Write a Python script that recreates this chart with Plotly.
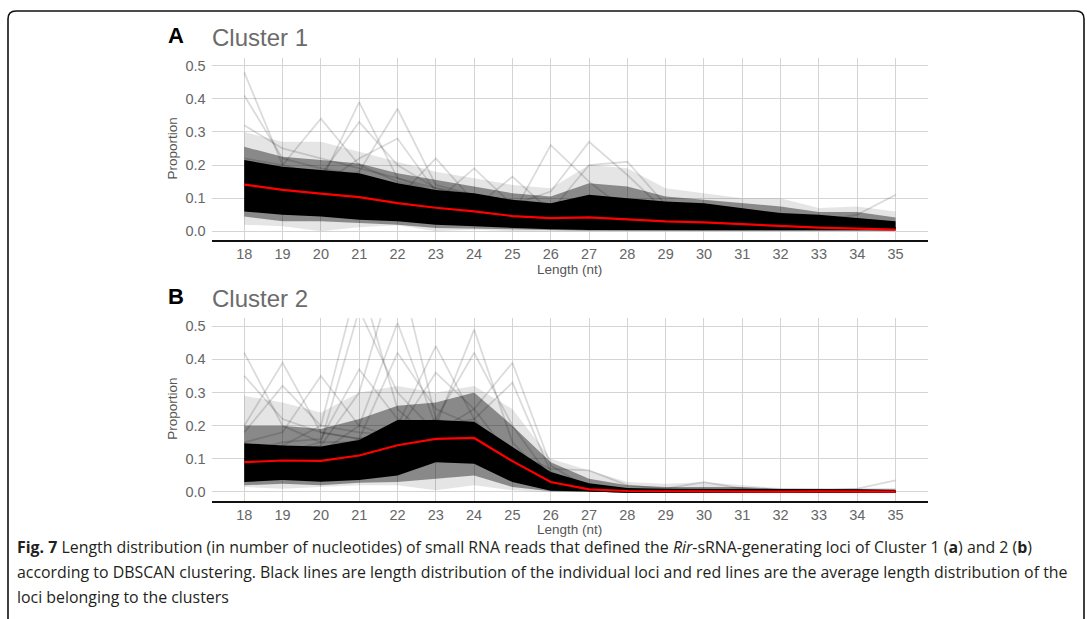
import plotly.graph_objects as go

W, H = 1087, 619

lengths = [18, 19, 20, 21, 22, 23, 24, 25, 26, 27, 28, 29, 30, 31, 32, 33, 34, 35]
y_ticks = [0.0, 0.1, 0.2, 0.3, 0.4, 0.5]
y_tick_text = ["0.0", "0.1", "0.2", "0.3", "0.4", "0.5"]

# ---------------- Cluster 1 ----------------
c1_mean = [0.141, 0.125, 0.114, 0.103, 0.085, 0.071, 0.060, 0.046, 0.040,
           0.042, 0.036, 0.030, 0.027, 0.021, 0.015, 0.011, 0.008, 0.005]
c1_core_hi = [0.215, 0.195, 0.185, 0.175, 0.145, 0.125, 0.115, 0.095, 0.085,
              0.110, 0.100, 0.090, 0.085, 0.070, 0.055, 0.050, 0.040, 0.030]
c1_core_lo = [0.060, 0.050, 0.045, 0.035, 0.030, 0.020, 0.015, 0.010, 0.006,
              0.004, 0.003, 0.003, 0.003, 0.003, 0.003, 0.003, 0.003, 0.003]
c1_mid_hi = [0.255, 0.225, 0.215, 0.205, 0.175, 0.155, 0.135, 0.115, 0.105,
             0.145, 0.135, 0.105, 0.095, 0.085, 0.075, 0.058, 0.058, 0.042]
c1_mid_lo = [0.045, 0.030, 0.030, 0.025, 0.020, 0.010, 0.008, 0.005, 0.003,
             0.002, 0.002, 0.002, 0.002, 0.002, 0.002, 0.002, 0.002, 0.002]
c1_out_hi = [0.300, 0.270, 0.270, 0.240, 0.210, 0.180, 0.160, 0.140, 0.130,
             0.200, 0.190, 0.130, 0.115, 0.100, 0.100, 0.070, 0.075, 0.060]
c1_out_lo = [0.020, 0.015, 0.000, 0.012, 0.018, 0.000, 0.005, 0.000, 0.000,
             0.000, 0.000, 0.000, 0.000, 0.000, 0.000, 0.000, 0.000, 0.000]

c1_loci = [
    [0.48, 0.20, 0.17, 0.15, 0.12, 0.10, 0.09, 0.07, 0.06, 0.06, 0.05, 0.04, 0.04, 0.03, 0.02, 0.02, 0.01, 0.01],
    [0.41, 0.22, 0.19, 0.17, 0.14, 0.11, 0.10, 0.08, 0.07, 0.07, 0.06, 0.05, 0.04, 0.03, 0.03, 0.02, 0.02, 0.01],
    [0.32, 0.25, 0.22, 0.19, 0.16, 0.13, 0.11, 0.09, 0.08, 0.08, 0.07, 0.06, 0.05, 0.04, 0.03, 0.03, 0.02, 0.02],
    [0.22, 0.20, 0.34, 0.20, 0.15, 0.12, 0.10, 0.08, 0.07, 0.07, 0.06, 0.05, 0.04, 0.03, 0.03, 0.02, 0.02, 0.01],
    [0.18, 0.16, 0.15, 0.39, 0.16, 0.12, 0.10, 0.08, 0.07, 0.06, 0.05, 0.05, 0.04, 0.03, 0.02, 0.02, 0.01, 0.01],
    [0.20, 0.18, 0.17, 0.33, 0.20, 0.13, 0.10, 0.08, 0.06, 0.06, 0.05, 0.04, 0.03, 0.03, 0.02, 0.02, 0.01, 0.01],
    [0.12, 0.14, 0.15, 0.18, 0.37, 0.14, 0.11, 0.08, 0.07, 0.06, 0.05, 0.04, 0.04, 0.03, 0.02, 0.02, 0.01, 0.01],
    [0.15, 0.16, 0.14, 0.22, 0.28, 0.12, 0.10, 0.08, 0.06, 0.06, 0.05, 0.04, 0.03, 0.03, 0.02, 0.02, 0.01, 0.01],
    [0.14, 0.13, 0.12, 0.11, 0.10, 0.22, 0.09, 0.07, 0.05, 0.05, 0.04, 0.03, 0.03, 0.02, 0.02, 0.01, 0.01, 0.01],
    [0.15, 0.14, 0.13, 0.12, 0.11, 0.09, 0.19, 0.08, 0.06, 0.05, 0.04, 0.04, 0.03, 0.02, 0.02, 0.01, 0.01, 0.01],
    [0.13, 0.12, 0.11, 0.10, 0.09, 0.08, 0.07, 0.165, 0.06, 0.05, 0.04, 0.04, 0.03, 0.02, 0.02, 0.01, 0.01, 0.01],
    [0.10, 0.09, 0.09, 0.08, 0.07, 0.06, 0.06, 0.05, 0.26, 0.15, 0.06, 0.04, 0.03, 0.02, 0.02, 0.01, 0.01, 0.01],
    [0.09, 0.09, 0.08, 0.08, 0.07, 0.06, 0.05, 0.08, 0.12, 0.27, 0.17, 0.06, 0.04, 0.03, 0.02, 0.02, 0.01, 0.01],
    [0.10, 0.09, 0.09, 0.08, 0.07, 0.06, 0.05, 0.05, 0.06, 0.20, 0.21, 0.08, 0.05, 0.04, 0.03, 0.02, 0.02, 0.01],
    [0.08, 0.07, 0.07, 0.06, 0.06, 0.05, 0.05, 0.04, 0.04, 0.04, 0.04, 0.04, 0.03, 0.03, 0.03, 0.03, 0.05, 0.11],
]

# ---------------- Cluster 2 ----------------
c2_mean = [0.090, 0.095, 0.094, 0.110, 0.141, 0.160, 0.163, 0.093, 0.030,
           0.008, 0.003, 0.002, 0.002, 0.002, 0.001, 0.002, 0.002, 0.001]
c2_core_hi = [0.147, 0.140, 0.137, 0.157, 0.217, 0.217, 0.212, 0.137, 0.060,
              0.026, 0.012, 0.010, 0.010, 0.010, 0.008, 0.008, 0.008, 0.006]
c2_core_lo = [0.030, 0.036, 0.031, 0.036, 0.050, 0.090, 0.085, 0.030, 0.004,
              0.001, 0.000, 0.000, 0.000, 0.000, 0.000, 0.000, 0.000, 0.000]
c2_mid_hi = [0.200, 0.200, 0.190, 0.220, 0.260, 0.270, 0.300, 0.200, 0.090,
             0.040, 0.020, 0.015, 0.015, 0.015, 0.010, 0.010, 0.010, 0.008]
c2_mid_lo = [0.020, 0.025, 0.020, 0.028, 0.030, 0.040, 0.050, 0.015, 0.002,
             0.000, 0.000, 0.000, 0.000, 0.000, 0.000, 0.000, 0.000, 0.000]
c2_out_hi = [0.290, 0.270, 0.240, 0.300, 0.320, 0.300, 0.320, 0.250, 0.100,
             0.065, 0.030, 0.025, 0.030, 0.020, 0.012, 0.012, 0.012, 0.012]
c2_out_lo = [0.015, 0.010, 0.015, 0.020, 0.020, 0.005, 0.020, 0.005, 0.000,
             0.000, 0.000, 0.000, 0.000, 0.000, 0.000, 0.000, 0.000, 0.000]

c2_loci = [
    [0.42, 0.20, 0.15, 0.15, 0.17, 0.16, 0.15, 0.08, 0.02, 0.005, 0, 0, 0, 0, 0, 0, 0, 0],
    [0.35, 0.22, 0.18, 0.16, 0.18, 0.17, 0.16, 0.09, 0.03, 0.01, 0, 0, 0, 0, 0, 0, 0, 0],
    [0.20, 0.39, 0.18, 0.16, 0.18, 0.15, 0.14, 0.08, 0.02, 0.005, 0, 0, 0, 0, 0, 0, 0, 0],
    [0.18, 0.32, 0.20, 0.18, 0.17, 0.16, 0.15, 0.07, 0.02, 0.005, 0, 0, 0, 0, 0, 0, 0, 0],
    [0.15, 0.18, 0.35, 0.20, 0.16, 0.15, 0.14, 0.07, 0.02, 0.005, 0, 0, 0, 0, 0, 0, 0, 0],
    [0.12, 0.14, 0.20, 0.65, 0.25, 0.15, 0.12, 0.06, 0.02, 0.005, 0, 0, 0, 0, 0, 0, 0, 0],
    [0.10, 0.12, 0.15, 0.55, 0.30, 0.18, 0.14, 0.06, 0.02, 0.005, 0, 0, 0, 0, 0, 0, 0, 0],
    [0.10, 0.12, 0.14, 0.30, 0.70, 0.22, 0.18, 0.07, 0.02, 0.005, 0, 0, 0, 0, 0, 0, 0, 0],
    [0.12, 0.15, 0.16, 0.37, 0.22, 0.18, 0.14, 0.06, 0.02, 0.005, 0, 0, 0, 0, 0, 0, 0, 0],
    [0.10, 0.10, 0.12, 0.20, 0.51, 0.20, 0.15, 0.06, 0.02, 0.005, 0, 0, 0, 0, 0, 0, 0, 0],
    [0.08, 0.10, 0.12, 0.16, 0.42, 0.25, 0.20, 0.07, 0.02, 0.005, 0, 0, 0, 0, 0, 0, 0, 0],
    [0.08, 0.09, 0.10, 0.14, 0.20, 0.44, 0.22, 0.08, 0.02, 0.005, 0, 0, 0, 0, 0, 0, 0, 0],
    [0.09, 0.10, 0.10, 0.12, 0.18, 0.36, 0.25, 0.10, 0.03, 0.005, 0, 0, 0, 0, 0, 0, 0, 0],
    [0.07, 0.08, 0.09, 0.11, 0.16, 0.20, 0.49, 0.15, 0.03, 0.005, 0, 0, 0, 0, 0, 0, 0, 0],
    [0.08, 0.08, 0.09, 0.12, 0.17, 0.22, 0.42, 0.20, 0.04, 0.005, 0, 0, 0, 0, 0, 0, 0, 0],
    [0.07, 0.08, 0.08, 0.10, 0.14, 0.18, 0.25, 0.39, 0.08, 0.01, 0, 0, 0, 0, 0, 0, 0, 0],
    [0.09, 0.09, 0.10, 0.11, 0.15, 0.20, 0.22, 0.33, 0.06, 0.01, 0, 0, 0, 0, 0, 0, 0, 0],
    [0.10, 0.10, 0.10, 0.11, 0.13, 0.14, 0.15, 0.12, 0.07, 0.065, 0.02, 0.01, 0.03, 0.01, 0.005, 0.005, 0.01, 0.035],
]

caption_lines = [
    "<b>Fig. 7</b> Length distribution (in number of nucleotides) of small RNA reads that defined the "
    "<i>Rir</i>-sRNA-generating loci of Cluster 1 (<b>a</b>) and 2 (<b>b</b>)",
    "according to DBSCAN clustering. Black lines are length distribution of the individual loci and "
    "red lines are the average length distribution of the",
    "loci belonging to the clusters",
]


def px(x):
    return x / W


def py(y):
    return 1 - y / H


fig = go.Figure()


def add_panel(xa, ya, mean, core_hi, core_lo, mid_hi, mid_lo, out_hi, out_lo, loci):
    for lo, hi, col in [(out_lo, out_hi, "rgba(0,0,0,0.10)"),
                        (mid_lo, mid_hi, "rgba(0,0,0,0.40)"),
                        (core_lo, core_hi, "rgba(0,0,0,1)")]:
        fig.add_trace(go.Scatter(x=lengths, y=lo, mode="lines", line=dict(width=0),
                                 xaxis=xa, yaxis=ya, showlegend=False, hoverinfo="skip"))
        fig.add_trace(go.Scatter(x=lengths, y=hi, mode="lines", line=dict(width=0),
                                 fill="tonexty", fillcolor=col,
                                 xaxis=xa, yaxis=ya, showlegend=False, hoverinfo="skip"))
    for s in loci:
        fig.add_trace(go.Scatter(x=lengths, y=s, mode="lines",
                                 line=dict(color="rgba(0,0,0,0.14)", width=1.8),
                                 xaxis=xa, yaxis=ya, showlegend=False, hoverinfo="skip"))
    fig.add_trace(go.Scatter(x=lengths, y=mean, mode="lines",
                             line=dict(color="#ff0000", width=2.2),
                             xaxis=xa, yaxis=ya, showlegend=False, name="mean"))


add_panel("x", "y", c1_mean, c1_core_hi, c1_core_lo, c1_mid_hi, c1_mid_lo,
          c1_out_hi, c1_out_lo, c1_loci)
add_panel("x2", "y2", c2_mean, c2_core_hi, c2_core_lo, c2_mid_hi, c2_mid_lo,
          c2_out_hi, c2_out_lo, c2_loci)

tick_font = dict(family="Liberation Sans, Arial, sans-serif", size=14.5, color="#666666")
grid_col = "#d4d4d4"

xcommon = dict(range=[17.15, 35.84], tickmode="array", tickvals=lengths,
               ticktext=[str(v) for v in lengths], showgrid=True, gridcolor=grid_col,
               gridwidth=1.3, zeroline=False, showline=True, linecolor="#111111",
               linewidth=2, ticks="", ticklen=0, tickfont=tick_font, ticklabelstandoff=0,
               fixedrange=True)
ycommon = dict(tickmode="array", tickvals=y_ticks, ticktext=y_tick_text,
               showgrid=True, gridcolor=grid_col, gridwidth=1.3, zeroline=False,
               showline=False, ticks="", ticklen=0, tickfont=tick_font, ticklabelstandoff=5,
               fixedrange=True)

# panel A: x 211.7-927.7 px, y 58.3-240 px ; panel B: y 318.3-500.7 px
fig.update_layout(
    width=W, height=H, autosize=False,
    margin=dict(l=0, r=0, t=0, b=0),
    paper_bgcolor="white", plot_bgcolor="white",
    xaxis=dict(domain=[px(211.7), px(927.7)], anchor="y", **xcommon),
    yaxis=dict(domain=[py(240), py(58.3)], anchor="x", range=[-0.0263, 0.5223], **ycommon),
    xaxis2=dict(domain=[px(211.7), px(927.7)], anchor="y2", **xcommon),
    yaxis2=dict(domain=[py(500.7), py(318.3)], anchor="x2", range=[-0.0263, 0.524], **ycommon),
)

label_font = dict(family="Liberation Sans, Arial, sans-serif", size=13.5, color="#555555")
annotations = []
for off, letter, title in [(0, "A", "Cluster 1"), (260.3, "B", "Cluster 2")]:
    annotations.append(dict(x=px(175.7), y=py(36 + off), xref="paper", yref="paper",
                            text=f"<b>{letter}</b>", showarrow=False, xanchor="center",
                            yanchor="middle",
                            font=dict(family="Liberation Sans, Arial, sans-serif", size=22,
                                      color="#000000")))
    annotations.append(dict(x=px(209.5), y=py(38 + off), xref="paper", yref="paper",
                            text=title, showarrow=False, xanchor="left", yanchor="middle",
                            font=dict(family="Liberation Sans, Arial, sans-serif", size=24,
                                      color="#6b6b6b")))
    annotations.append(dict(x=px(569.7), y=py(269 + off), xref="paper", yref="paper",
                            text="Length (nt)", showarrow=False, xanchor="center",
                            yanchor="middle", font=label_font))
    annotations.append(dict(x=px(172.5), y=py(149 + off), xref="paper", yref="paper",
                            text="Proportion", showarrow=False, xanchor="center",
                            yanchor="middle", textangle=-90, font=label_font))

for i, line in enumerate(caption_lines):
    annotations.append(dict(x=px(15), y=py(547 + 25 * i), xref="paper", yref="paper",
                            text=line, showarrow=False, xanchor="left", yanchor="middle",
                            font=dict(family="Open Sans, sans-serif", size=15.9,
                                      color="#231f20")))
fig.update_layout(annotations=annotations)

# rounded frame around the figure (left, top, right)
r = 8
frame = (f"M {px(8)} {py(619)} L {px(8)} {py(11 + r)} Q {px(8)} {py(11)} {px(8 + r)} {py(11)} "
         f"L {px(1084 - r)} {py(11)} Q {px(1084)} {py(11)} {px(1084)} {py(11 + r)} "
         f"L {px(1084)} {py(619)}")
fig.add_shape(type="path", path=frame, xref="paper", yref="paper",
              line=dict(color="#111111", width=1.6))

fig.write_html("out.html", config={"displayModeBar": False},
               post_script="document.body.style.margin='0px';")
